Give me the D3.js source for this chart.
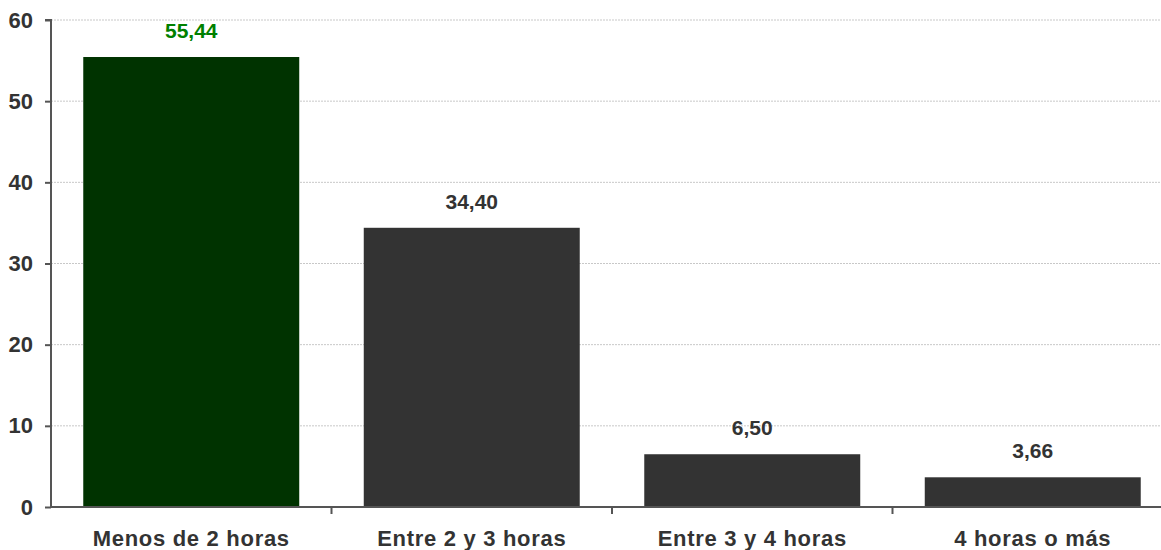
<!DOCTYPE html>
<html><head><meta charset="utf-8">
<script src="https://cdn.jsdelivr.net/npm/d3@7"></script>
<style>body{margin:0;background:#fff}svg{display:block}text{font-family:"Liberation Sans",Arial,sans-serif;font-weight:bold}</style>
</head><body>
<svg id="c" width="1161" height="550"></svg>
<script>
const categories = ["Menos de 2 horas", "Entre 2 y 3 horas", "Entre 3 y 4 horas", "4 horas o más"];
const values = [55.44, 34.40, 6.50, 3.66];
const labels = ["55,44", "34,40", "6,50", "3,66"];
const yTicks = [0, 10, 20, 30, 40, 50, 60];
const barColors = ["#003300", "#333333", "#333333", "#333333"];
const labelColors = ["#008000", "#333333", "#333333", "#333333"];

const svg = d3.select("#c");
const x = d3.scaleBand().domain(categories).range([51, 1173]).paddingInner(0.23).paddingOuter(0.115);
const y = d3.scaleLinear().domain([0, 60]).range([507, 20]);

// gridlines
svg.append("g").selectAll("line").data(yTicks.filter(d => d > 0)).join("line")
  .attr("x1", 51).attr("x2", 1161).attr("y1", d => y(d)).attr("y2", d => y(d))
  .attr("stroke", "#c8c8c8").attr("stroke-width", 1).attr("stroke-dasharray", "2,1");

// bars
svg.append("g").selectAll("rect").data(values).join("rect")
  .attr("x", (d, i) => x(categories[i])).attr("width", x.bandwidth())
  .attr("y", d => y(d)).attr("height", d => y(0) - y(d))
  .attr("fill", (d, i) => barColors[i]);

// value labels
svg.append("g").selectAll("text").data(values).join("text")
  .attr("x", (d, i) => x(categories[i]) + x.bandwidth() / 2)
  .attr("y", d => y(d) - 19)
  .attr("text-anchor", "middle").attr("font-size", 21)
  .attr("fill", (d, i) => labelColors[i])
  .text((d, i) => labels[i]);

// y axis
const yAxis = d3.axisLeft(y).tickValues(yTicks).tickSize(6).tickPadding(12).tickFormat(d3.format("d"));
const ga = svg.append("g").attr("transform", "translate(51,0)").call(yAxis);
ga.select(".domain").attr("stroke", "#555").attr("stroke-width", 2).attr("d", "M-6," + y(60) + "H0V" + y(0));
ga.selectAll(".tick line").attr("stroke", "#555").attr("stroke-width", 2);
ga.selectAll(".tick text").attr("font-size", 22).attr("fill", "#333").attr("font-family", "Liberation Sans, Arial, sans-serif").attr("font-weight", "bold");

// x axis
const step = x.step();
const bounds = d3.range(1, categories.length).map(i => 51 + i * step);
svg.append("line").attr("x1", 50).attr("x2", 1161).attr("y1", y(0)).attr("y2", y(0))
  .attr("stroke", "#555").attr("stroke-width", 2);
svg.append("g").selectAll("line").data(bounds).join("line")
  .attr("x1", d => d).attr("x2", d => d).attr("y1", y(0)).attr("y2", y(0) + 7)
  .attr("stroke", "#555").attr("stroke-width", 2);
svg.append("g").selectAll("text").data(categories).join("text")
  .attr("x", d => x(d) + x.bandwidth() / 2).attr("y", 546)
  .attr("text-anchor", "middle").attr("font-size", 22).attr("fill", "#333")
  .attr("letter-spacing", 0.7)
  .text(d => d);
</script>
</body></html>
